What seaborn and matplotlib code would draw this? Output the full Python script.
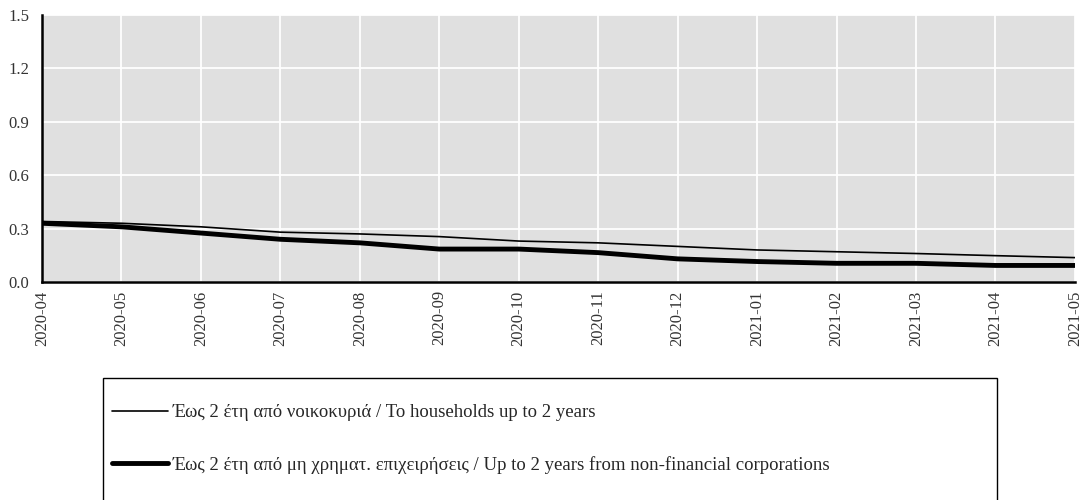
import pandas as pd
import matplotlib.pyplot as plt
from matplotlib.patches import Rectangle
import seaborn as sns

months = ["2020-04", "2020-05", "2020-06", "2020-07", "2020-08", "2020-09", "2020-10",
          "2020-11", "2020-12", "2021-01", "2021-02", "2021-03", "2021-04", "2021-05"]
households = [0.34, 0.33, 0.31, 0.28, 0.27, 0.255, 0.23, 0.22, 0.20, 0.18, 0.17, 0.16, 0.148, 0.137]
corporations = [0.33, 0.31, 0.275, 0.24, 0.22, 0.185, 0.185, 0.165, 0.13, 0.115, 0.105, 0.105, 0.093, 0.093]

label_hh = "Έως 2 έτη από νοικοκυριά / To households up to 2 years"
label_nfc = "Έως 2 έτη από μη χρηματ. επιχειρήσεις / Up to 2 years from non-financial corporations"

df = pd.DataFrame({"month": months, label_hh: households, label_nfc: corporations})
long = df.melt(id_vars="month", var_name="series", value_name="value")

sns.set_theme(style="darkgrid")
plt.rcParams["font.family"] = ["Liberation Serif", "DejaVu Serif"]

fig = plt.figure(figsize=(10.85, 5), dpi=100)
ax = fig.add_axes([0.0387, 0.436, 0.952, 0.534])
ax.set_facecolor("#e0e0e0")

sns.lineplot(data=long, x="month", y="value", hue="series", size="series",
             sizes={label_hh: 1.2, label_nfc: 3.5},
             palette={label_hh: "black", label_nfc: "black"},
             sort=False, ax=ax, legend=False)

ax.set_xlim(0, len(months) - 1)
ax.set_ylim(0, 1.5)
ax.set_yticks([0.0, 0.3, 0.6, 0.9, 1.2, 1.5])
ax.set_yticklabels(["0.0", "0.3", "0.6", "0.9", "1.2", "1.5"])
ax.tick_params(axis="x", labelrotation=90, labelsize=12, colors="#333333", pad=0)
ax.tick_params(axis="y", labelsize=12, colors="#333333", pad=3)
ax.grid(True, color="white", linewidth=1.3)
ax.set_xlabel("")
ax.set_ylabel("")
for s in ["top", "right"]:
    ax.spines[s].set_visible(False)
for s in ["left", "bottom"]:
    ax.spines[s].set_visible(True)
    ax.spines[s].set_color("black")
    ax.spines[s].set_linewidth(1.8)

# legend box
fig.patches.append(Rectangle((103 / 1085, -0.01), 894 / 1085, 0.254,
                             transform=fig.transFigure, fill=False,
                             edgecolor="black", linewidth=1.0))
handles = [plt.Line2D([], [], color="black", lw=1.2),
           plt.Line2D([], [], color="black", lw=3.5)]
fig.legend(handles, [label_hh, label_nfc], loc="upper left",
           bbox_to_anchor=(112 / 1085, 1 - 404 / 500),
           frameon=False, fontsize=13.5, handlelength=3.0,
           handletextpad=0.25, labelspacing=1.85, borderaxespad=0, borderpad=0)

fig.savefig("out.png", dpi=100)
